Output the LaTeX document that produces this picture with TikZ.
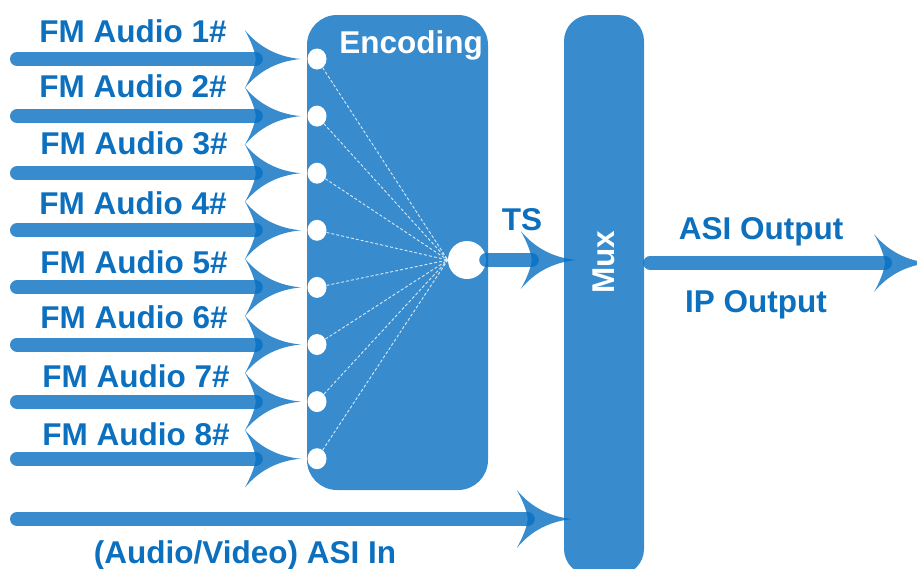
\documentclass[tikz,border=0pt]{standalone}
\usepackage{fontspec}
\setmainfont{Liberation Sans}
\usetikzlibrary{positioning, shapes.geometric, arrows.meta}

\definecolor{boxblue}{RGB}{56,140,206}
\definecolor{feedblue}{RGB}{6,111,194}
\definecolor{txtblue}{RGB}{12,112,190}

% curved head of the feed arrows
\pgfdeclarearrow{
  name = Swoop,
  setup code = {
    \pgfarrowssettipend{0pt}
    \pgfarrowssetlineend{-45pt}
    \pgfarrowssetbackend{-56pt}
    \pgfarrowshullpoint{0pt}{0pt}
    \pgfarrowshullpoint{-56pt}{29pt}
    \pgfarrowshullpoint{-56pt}{-29pt}
  },
  drawing code = {
    \pgfpathmoveto{\pgfqpoint{0pt}{0pt}}
    \pgfpathcurveto{\pgfqpoint{-23pt}{2pt}}{\pgfqpoint{-42pt}{12pt}}{\pgfqpoint{-56pt}{29pt}}
    \pgfpathcurveto{\pgfqpoint{-51pt}{20pt}}{\pgfqpoint{-46pt}{9pt}}{\pgfqpoint{-45pt}{0pt}}
    \pgfpathcurveto{\pgfqpoint{-46pt}{-9pt}}{\pgfqpoint{-51pt}{-20pt}}{\pgfqpoint{-56pt}{-29pt}}
    \pgfpathcurveto{\pgfqpoint{-42pt}{-12pt}}{\pgfqpoint{-23pt}{-2pt}}{\pgfqpoint{0pt}{0pt}}
    \pgfpathclose
    \pgfusepathqfill
  }
}

\tikzset{
  block/.style={fill=boxblue, rounded corners=30pt, inner sep=0pt},
  port/.style={ellipse, fill=white, minimum width=19pt, minimum height=21pt, inner sep=0pt},
  feed/.style={color=feedblue, opacity=0.8, line width=14pt, line cap=round, -{Swoop}},
  spoke/.style={white, opacity=0.8, line width=0.9pt, dash pattern=on 3pt off 2pt},
  lbl/.style={text=txtblue, font=\fontsize{31.5}{36}\selectfont\bfseries, inner sep=0pt},
  inlbl/.style={text=white, font=\fontsize{31.5}{36}\selectfont\bfseries, inner sep=0pt}
}

\begin{document}
\begin{tikzpicture}[x=1pt, y=-1pt]

\useasboundingbox (0,0) rectangle (917,568);
\clip (0,0) rectangle (917,568);

% define nodes

% blocks
\node[block, minimum width=181pt, minimum height=475pt] (enc) at (397.5,252.5) {};
\node[block, rounded corners=26pt, minimum width=80pt, minimum height=560pt] (mux) at (604,295) {};
\node[inlbl] (enctext) at (411,45) {Encoding};
\node[inlbl, rotate=90] (muxtext) at (604,262) {Mux};

% ports
\node[port] (d1) at (317,59) {};
\node[port, below=35.7pt of d1] (d2) {};
\node[port, below=35.7pt of d2] (d3) {};
\node[port, below=35.7pt of d3] (d4) {};
\node[port, below=35.7pt of d4] (d5) {};
\node[port, below=35.7pt of d5] (d6) {};
\node[port, below=35.7pt of d6] (d7) {};
\node[port, below=35.7pt of d7] (d8) {};

\node[circle, fill=white, minimum size=38pt, inner sep=0pt] (hub) at (467,260) {};

% sources
\coordinate (edge) at (17,0);
\coordinate (s1) at (edge |- d1);
\coordinate (s2) at (edge |- d2);
\coordinate (s3) at (edge |- d3);
\coordinate (s4) at (edge |- d4);
\coordinate (s5) at (edge |- d5);
\coordinate (s6) at (edge |- d6);
\coordinate (s7) at (edge |- d7);
\coordinate (s8) at (edge |- d8);
\coordinate (asi) at (17,519);
\coordinate (rx) at (930,263);

% labels
\node[lbl] (l1) at (133,31) {FM Audio 1\#};
\node[lbl] (l2) at (133,86) {FM Audio 2\#};
\node[lbl] (l3) at (134,143.5) {FM Audio 3\#};
\node[lbl] (l4) at (133,203) {FM Audio 4\#};
\node[lbl] (l5) at (134,262) {FM Audio 5\#};
\node[lbl] (l6) at (134,317) {FM Audio 6\#};
\node[lbl] (l7) at (136,376) {FM Audio 7\#};
\node[lbl] (l8) at (136,434) {FM Audio 8\#};

\node[lbl] (ts) at (522,220) {TS};
\node[lbl] (asiout) at (761,232) {ASI Output};
\node[lbl] (ipout) at (756,305) {IP Output};
\node[lbl] (asiin) at (245,555) {(Audio/Video) ASI In};

% edges

\draw[spoke] (d1) -- (hub.west);
\draw[spoke] (d2) -- (hub.west);
\draw[spoke] (d3) -- (hub.west);
\draw[spoke] (d4) -- (hub.west);
\draw[spoke] (d5) -- (hub.west);
\draw[spoke] (d6) -- (hub.west);
\draw[spoke] (d7) -- (hub.west);
\draw[spoke] (d8) -- (hub.west);

\draw[feed, shorten >=6.5pt] (s1) -- (d1);
\draw[feed, shorten >=6.5pt] (s2) -- (d2);
\draw[feed, shorten >=6.5pt] (s3) -- (d3);
\draw[feed, shorten >=6.5pt] (s4) -- (d4);
\draw[feed, shorten >=6.5pt] (s5) -- (d5);
\draw[feed, shorten >=6.5pt] (s6) -- (d6);
\draw[feed, shorten >=6.5pt] (s7) -- (d7);
\draw[feed, shorten >=6.5pt] (s8) -- (d8);

\draw[feed] (hub.east) -- ([xshift=13pt]hub -| mux.west);
\draw[feed, shorten <=6pt] (mux.east |- rx) -- (rx);
\draw[feed, shorten >=-9pt] (asi) -- (asi -| mux.west);

\end{tikzpicture}
\end{document}
